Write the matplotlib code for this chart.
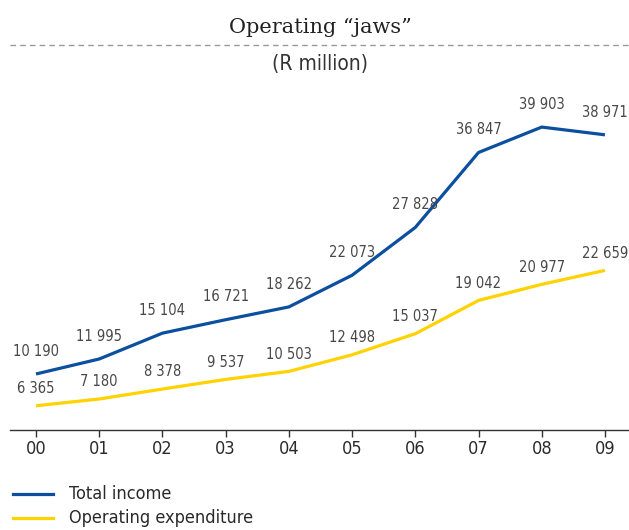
import matplotlib
matplotlib.use("Agg")
import matplotlib.pyplot as plt
from matplotlib.lines import Line2D

years = ["00", "01", "02", "03", "04", "05", "06", "07", "08", "09"]
total_income = [10190, 11995, 15104, 16721, 18262, 22073, 27828, 36847, 39903, 38971]
operating_exp = [6365, 7180, 8378, 9537, 10503, 12498, 15037, 19042, 20977, 22659]

BLUE = "#0B4F9E"
YELLOW = "#FFD200"
TXT = "#484848"
FONT = "DejaVu Sans"
ST = "condensed"

def fmt(v):
    return f"{v:,}".replace(",", " ")

fig = plt.figure(figsize=(6.29, 5.30), dpi=100)
W, H = 629, 530
ax = fig.add_axes([10 / W, 1 - 430 / H, (629 - 10) / W, (430 - 90) / H])

x = list(range(len(years)))
ax.plot(x, total_income, color=BLUE, lw=2.3, solid_capstyle="butt")
ax.plot(x, operating_exp, color=YELLOW, lw=2.3, solid_capstyle="butt")

for xi, v in zip(x, total_income):
    ax.annotate(fmt(v), (xi, v), xytext=(0, 11), textcoords="offset points",
                ha="center", va="bottom", fontsize=10.5, color=TXT, family=FONT,
                fontstretch=ST)
for xi, v in zip(x, operating_exp):
    ax.annotate(fmt(v), (xi, v), xytext=(0, 7), textcoords="offset points",
                ha="center", va="bottom", fontsize=10.5, color=TXT, family=FONT,
                fontstretch=ST)

ax.set_xlim(-0.411, 9.38)
ax.set_ylim(3450, 44365)
ax.set_xticks(x)
ax.set_xticklabels(years, family=FONT, fontsize=13, color="#2a2a2a", fontstretch=ST)
ax.set_yticks([])
for s in ["top", "left", "right"]:
    ax.spines[s].set_visible(False)
ax.spines["bottom"].set_color("#333333")
ax.spines["bottom"].set_linewidth(1.0)
ax.tick_params(axis="x", direction="out", length=5, width=1, color="#333333", pad=2)

fig.text(320 / W, 1 - 27 / H, "Operating \u201cjaws\u201d", ha="center", va="center",
         fontsize=15, family="DejaVu Serif", color="#222222")
fig.add_artist(Line2D([10 / W, 1.0], [1 - 45 / H, 1 - 45 / H], transform=fig.transFigure,
                      color="#999999", lw=1, linestyle=(0, (4, 3))))
fig.text(320 / W, 1 - 64 / H, "(R million)", ha="center", va="center",
         fontsize=15, family=FONT, fontstretch=ST, color="#333333")

# legend
for yy, col, lab in [(494, BLUE, "Total income"), (518, YELLOW, "Operating expenditure")]:
    fig.add_artist(Line2D([13 / W, 53 / W], [1 - yy / H, 1 - yy / H], transform=fig.transFigure,
                          color=col, lw=2.3))
    fig.text(69 / W, 1 - yy / H, lab, ha="left", va="center", fontsize=13, family=FONT,
             fontstretch=ST, color="#2a2a2a")

fig.savefig("out.png", dpi=100)
